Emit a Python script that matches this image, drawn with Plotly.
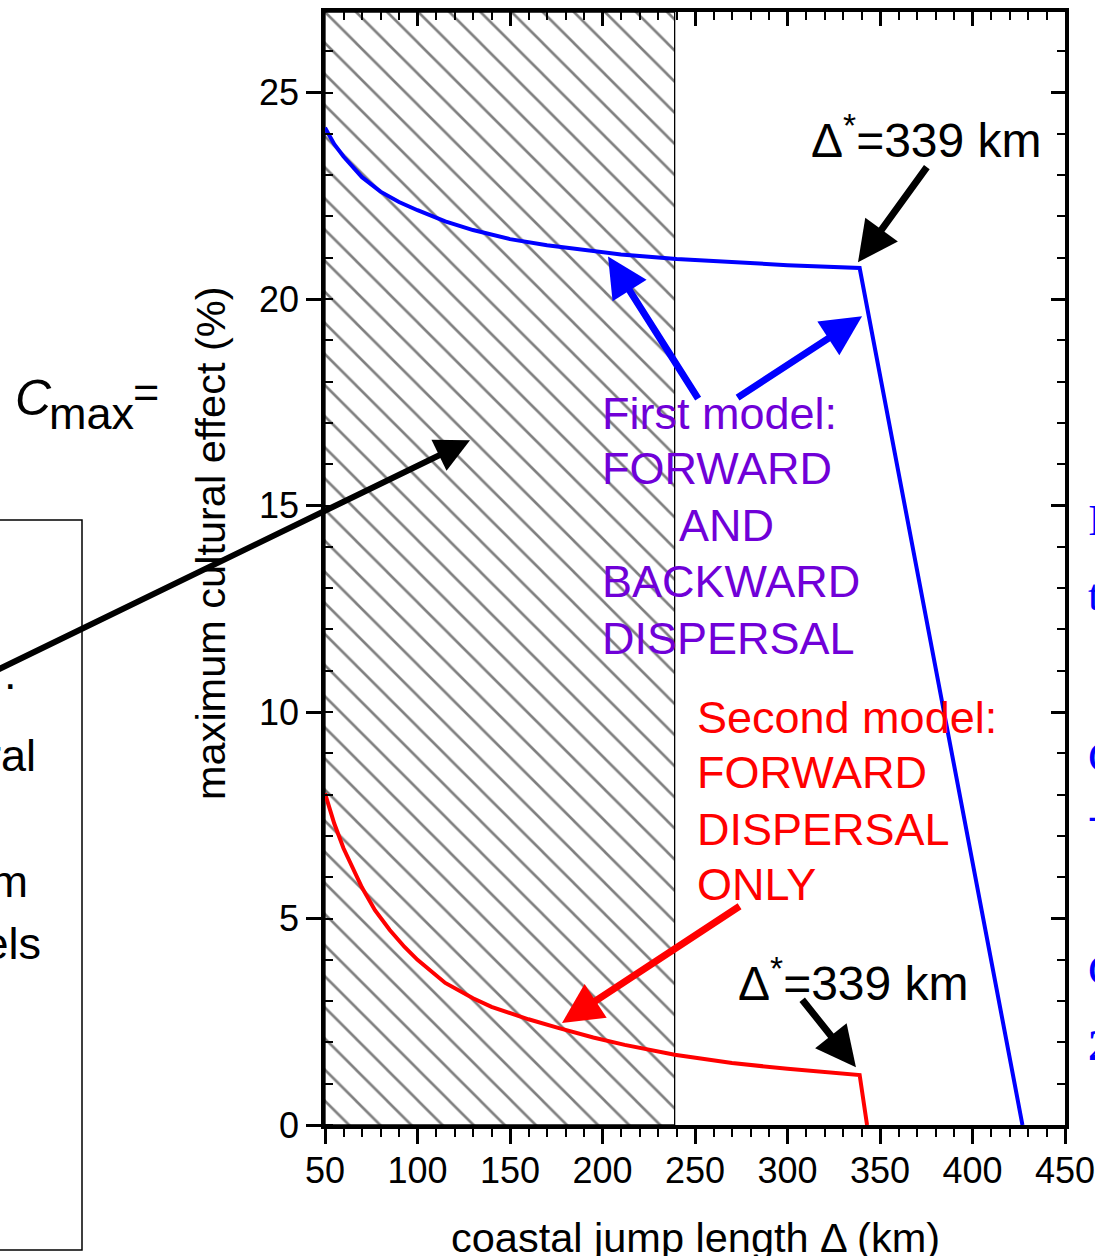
import plotly.graph_objects as go

# ---------------- data ----------------
delta_first = [50, 55, 60, 70, 80, 90, 100, 115, 130, 150, 170, 190, 210, 240, 270, 300, 339, 427]
cmax_first = [24.15, 23.75, 23.45, 22.95, 22.6, 22.35, 22.15, 21.88, 21.67, 21.45, 21.3, 21.18,
              21.08, 20.97, 20.89, 20.82, 20.75, 0.0]

delta_second = [50, 55, 60, 65, 70, 77, 85, 93, 100, 115, 130, 140, 160, 176, 195, 212, 239,
                270, 300, 339, 343]
cmax_second = [8.03, 7.3, 6.7, 6.2, 5.75, 5.2, 4.72, 4.31, 4.0, 3.44, 3.07, 2.86, 2.56, 2.35,
               2.12, 1.94, 1.7, 1.5, 1.36, 1.21, 0.0]

hatch_range = [50, 239]          # hatched (excluded) jump lengths
x_range = [50, 450]
y_range = [0, 26.95]
x_tick0, x_dtick, x_minor = 50, 50, 10
y_tick0, y_dtick, y_minor = 0, 5, 1

FONT = "Liberation Sans, Arial, sans-serif"
SERIF = "Liberation Serif, Times New Roman, serif"
BLUE = "#0000ff"
RED = "#ff0000"
PURPLE = "#7000d8"

# figure geometry (pixels)
W, H = 1095, 1256
L, R, T, B = 325, 30, 12, 131
PW, PH = W - L - R, H - T - B


def px(xp):
    return (xp - L) / PW


def py(yp):
    return (H - B - yp) / PH


fig = go.Figure()

# hatched region
fig.add_trace(go.Scatter(
    x=[hatch_range[0], hatch_range[1], hatch_range[1], hatch_range[0], hatch_range[0]],
    y=[y_range[0], y_range[0], y_range[1], y_range[1], y_range[0]],
    mode="lines", fill="toself", fillcolor="white",
    fillpattern=dict(shape="\\", size=22, solidity=0.12, fgcolor="black", bgcolor="white"),
    line=dict(color="black", width=1.3), hoverinfo="skip", showlegend=False))

fig.add_trace(go.Scatter(x=delta_first, y=cmax_first, mode="lines",
                         line=dict(color=BLUE, width=4), name="First model"))
fig.add_trace(go.Scatter(x=delta_second, y=cmax_second, mode="lines",
                         line=dict(color=RED, width=4), name="Second model"))

# invisible trace for the mirrored (top/right) axes
fig.add_trace(go.Scatter(x=x_range, y=y_range, xaxis="x2", yaxis="y2", mode="lines",
                         line=dict(width=0, color="rgba(0,0,0,0)"), hoverinfo="skip",
                         showlegend=False))

axis_common = dict(showgrid=False, zeroline=False, showline=True, linewidth=3.5,
                   linecolor="black", tickcolor="black", tickwidth=2.5,
                   automargin=False)

fig.update_layout(
    width=W, height=H, margin=dict(l=L, r=R, t=T, b=B, autoexpand=False),
    paper_bgcolor="white", plot_bgcolor="white", showlegend=False,
    font=dict(family=FONT, size=36, color="black"),
    xaxis=dict(range=x_range, tickmode="linear", tick0=x_tick0, dtick=x_dtick,
               ticks="outside", ticklen=15, tickfont=dict(size=36),
               ticklabeloverflow="allow", ticklabelstandoff=-4,
               minor=dict(tick0=x_tick0, dtick=x_minor, ticks="outside", ticklen=8,
                          tickwidth=2, tickcolor="black", showgrid=False),
               **axis_common),
    yaxis=dict(range=y_range, tickmode="linear", tick0=y_tick0, dtick=y_dtick,
               ticks="outside", ticklen=15, tickfont=dict(size=36),
               ticklabeloverflow="allow",
               minor=dict(tick0=y_tick0, dtick=y_minor, ticks="inside", ticklen=8,
                          tickwidth=2, tickcolor="black", showgrid=False),
               **axis_common),
    xaxis2=dict(range=x_range, overlaying="x", side="top", anchor="y2", tickmode="linear",
                tick0=x_tick0, dtick=x_dtick, ticks="inside", ticklen=14,
                showticklabels=False,
                minor=dict(tick0=x_tick0, dtick=x_minor, ticks="inside", ticklen=8,
                           tickwidth=2, tickcolor="black", showgrid=False),
                **axis_common),
    yaxis2=dict(range=y_range, overlaying="y", side="right", anchor="x2", tickmode="linear",
                tick0=y_tick0, dtick=y_dtick, ticks="inside", ticklen=14,
                showticklabels=False,
                minor=dict(tick0=y_tick0, dtick=y_minor, ticks="inside", ticklen=8,
                           tickwidth=2, tickcolor="black", showgrid=False),
                **axis_common),
)

ann = []


def arrow(head, tail, color, width=6, size=1.15):
    ann.append(dict(x=head[0], y=head[1], ax=tail[0], ay=tail[1], xref="x", yref="y",
                    axref="x", ayref="y", text="", showarrow=True, arrowhead=2,
                    arrowsize=size, arrowwidth=width, arrowcolor=color,
                    standoff=0, startstandoff=0))


def label(x, y, text, color="black", size=45, xanchor="left", xref="x", yref="y",
          family=FONT, **kw):
    ann.append(dict(x=x, y=y, xref=xref, yref=yref, text=text, showarrow=False,
                    xanchor=xanchor, yanchor="middle",
                    font=dict(family=family, size=size, color=color), **kw))


# arrows (head, tail) in data units
arrow((338.1, 20.89), (375.9, 23.23), "black", 7)
arrow((203.0, 21.03), (252.2, 17.55), BLUE, 7)
arrow((340.3, 19.58), (272.2, 17.59), BLUE, 7)
arrow((128.4, 16.58), (-128.4, 10.99), "black", 6)
arrow((178.1, 2.47), (274.9, 5.32), RED, 7)
arrow((337.0, 1.40), (307.3, 3.07), "black", 7)

# Δ* labels
label(311.5, 23.92, "Δ<sup>*</sup>=339 km", size=48)
label(271.9, 3.52, "Δ<sup>*</sup>=339 km", size=48)

# First model text
first_lines = ["First model:", "FORWARD", "AND", "BACKWARD", "DISPERSAL"]
first_x = [198.5, 198.5, 240.0, 198.5, 198.5]
first_y = [17.22, 15.89, 14.51, 13.16, 11.78]
for t, xx, yy in zip(first_lines, first_x, first_y):
    label(xx, yy, t, PURPLE)

# Second model text
second_lines = ["Second model:", "FORWARD", "DISPERSAL", "ONLY"]
second_y = [9.87, 8.54, 7.16, 5.83]
for t, yy in zip(second_lines, second_y):
    label(249.8, yy, t, RED)

# axis titles
ann.append(dict(x=px(210), y=py(543), xref="paper", yref="paper", showarrow=False,
                xanchor="center", yanchor="middle",
                text="maximum cultural effect (%)", textangle=-90,
                font=dict(family=FONT, size=41.5, color="black")))
ann.append(dict(x=px(695), y=py(1237), xref="paper", yref="paper", showarrow=False,
                xanchor="center", yanchor="middle",
                text="coastal jump length Δ (km)",
                font=dict(family=FONT, size=41.5, color="black")))

# C_max =
label(px(33), py(398), "<i>C</i>", size=50, xanchor="center", xref="paper", yref="paper")
label(px(47), py(414), "max", size=45, xanchor="left", xref="paper", yref="paper")
label(px(146), py(392), "=", size=45, xanchor="center", xref="paper", yref="paper")

# cut-off texts at the left (inside the box)
label(px(10), py(673), ".", size=45, xanchor="center", xref="paper", yref="paper")
label(px(38), py(755), "cultural", size=45, xanchor="right", xref="paper", yref="paper")
label(px(30), py(881), "from", size=45, xanchor="right", xref="paper", yref="paper")
label(px(43), py(943), "models", size=45, xanchor="right", xref="paper", yref="paper")

# cut-off texts at the right
right_txt = ["In", "the", "C", "-", "C", "<b>2</b>"]
right_y = [520, 595, 757, 815, 970, 1045]
for t, yy in zip(right_txt, right_y):
    label(px(1086), py(yy), t, BLUE, size=45, xref="paper", yref="paper", family=SERIF)

fig.update_layout(annotations=ann)

# box at the left
fig.add_shape(type="rect", xref="paper", yref="paper", x0=px(-20), x1=px(82),
              y0=py(1250), y1=py(520), line=dict(color="black", width=1.5))

fig.write_html("out.html", config={"displayModeBar": False},
               post_script="document.body.style.margin='0px';")
